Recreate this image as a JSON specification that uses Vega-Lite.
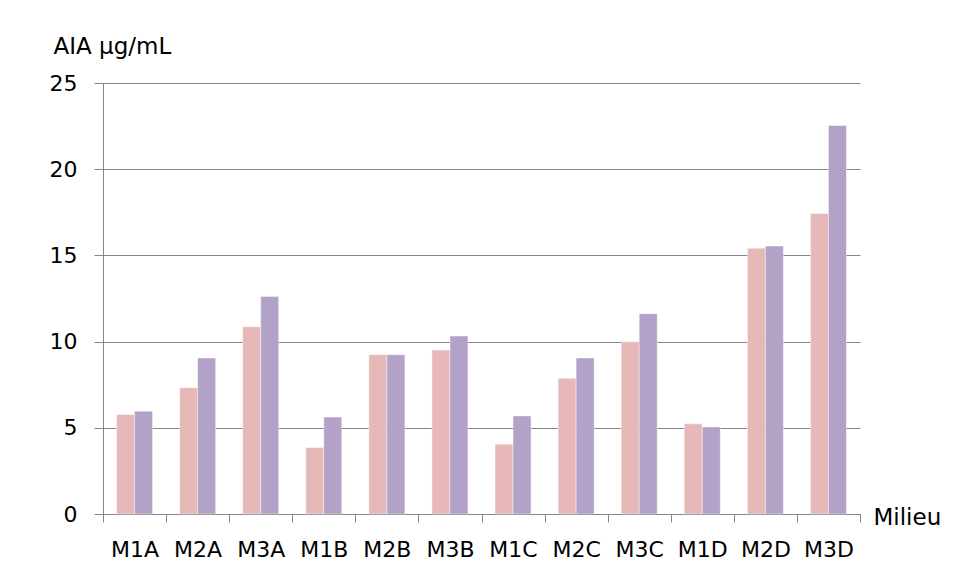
{
  "$schema": "https://vega.github.io/schema/vega-lite/v6.json",
  "autosize": "none",
  "width": 757,
  "height": 431,
  "padding": {"left": 103, "top": 83, "right": 108, "bottom": 59},
  "background": "white",
  "config": {
    "view": {"stroke": null},
    "font": "DejaVu Sans",
    "axis": {"labelFont": "DejaVu Sans", "titleFont": "DejaVu Sans", "labelColor": "black", "titleColor": "black", "titleFontWeight": "normal"}
  },
  "data": {
    "values": [
      {"milieu": "M1A", "serie": "1", "aia": 5.77},
      {"milieu": "M1A", "serie": "2", "aia": 5.96},
      {"milieu": "M2A", "serie": "1", "aia": 7.33},
      {"milieu": "M2A", "serie": "2", "aia": 9.05},
      {"milieu": "M3A", "serie": "1", "aia": 10.86},
      {"milieu": "M3A", "serie": "2", "aia": 12.62},
      {"milieu": "M1B", "serie": "1", "aia": 3.86},
      {"milieu": "M1B", "serie": "2", "aia": 5.62},
      {"milieu": "M2B", "serie": "1", "aia": 9.24},
      {"milieu": "M2B", "serie": "2", "aia": 9.24},
      {"milieu": "M3B", "serie": "1", "aia": 9.51},
      {"milieu": "M3B", "serie": "2", "aia": 10.32},
      {"milieu": "M1C", "serie": "1", "aia": 4.05},
      {"milieu": "M1C", "serie": "2", "aia": 5.69},
      {"milieu": "M2C", "serie": "1", "aia": 7.87},
      {"milieu": "M2C", "serie": "2", "aia": 9.05},
      {"milieu": "M3C", "serie": "1", "aia": 9.99},
      {"milieu": "M3C", "serie": "2", "aia": 11.62},
      {"milieu": "M1D", "serie": "1", "aia": 5.23},
      {"milieu": "M1D", "serie": "2", "aia": 5.05},
      {"milieu": "M2D", "serie": "1", "aia": 15.42},
      {"milieu": "M2D", "serie": "2", "aia": 15.54},
      {"milieu": "M3D", "serie": "1", "aia": 17.43},
      {"milieu": "M3D", "serie": "2", "aia": 22.53}
    ]
  },
  "mark": {"type": "bar", "stroke": "white", "strokeWidth": 0.6, "strokeOpacity": 0.7},
  "encoding": {
    "x": {
      "field": "milieu",
      "type": "nominal",
      "sort": null,
      "scale": {"paddingInner": 0, "paddingOuter": 0},
      "axis": {
        "title": "Milieu",
        "titleFontSize": 23,
        "titleAlign": "left",
        "titleBaseline": "alphabetic",
        "titleAnchor": null,
        "titleX": 770,
        "titleY": 10,
        "labelAngle": 0,
        "labelFontSize": 22,
        "labelBaseline": "alphabetic",
        "labelPadding": 34,
        "tickBand": "extent",
        "tickSize": 8,
        "tickColor": "#868686",
        "domainColor": "#868686",
        "tickWidth": 1,
        "domainWidth": 1,
        "grid": false
      }
    },
    "xOffset": {
      "field": "serie",
      "type": "nominal",
      "scale": {"paddingInner": 0, "paddingOuter": 0.752}
    },
    "y": {
      "field": "aia",
      "type": "quantitative",
      "scale": {"domain": [0, 25], "nice": false},
      "axis": {
        "values": [0, 5, 10, 15, 20, 25],
        "title": "AIA µg/mL",
        "titleAngle": 0,
        "titleFontSize": 23,
        "titleAlign": "left",
        "titleBaseline": "alphabetic",
        "titleAnchor": null,
        "titleX": -50,
        "titleY": -30,
        "labelFontSize": 22,
        "labelPadding": 17,
        "tickSize": 9,
        "tickColor": "#868686",
        "domainColor": "#868686",
        "gridColor": "#868686",
        "grid": true,
        "gridWidth": 1,
        "tickWidth": 1,
        "domainWidth": 1
      }
    },
    "color": {
      "field": "serie",
      "type": "nominal",
      "scale": {"domain": ["1", "2"], "range": ["#E6B9B8", "#B3A2C7"]},
      "legend": null
    }
  }
}
